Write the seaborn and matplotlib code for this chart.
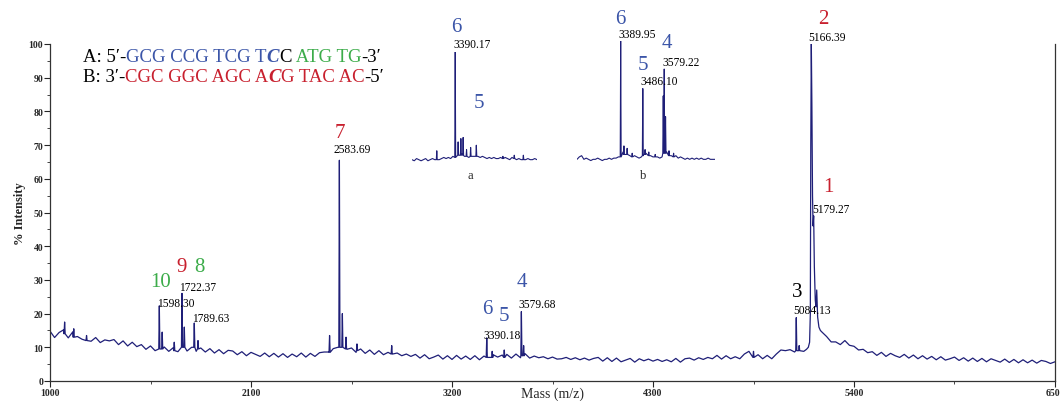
import numpy as np
import pandas as pd
import seaborn as sns
import matplotlib.pyplot as plt
from matplotlib.offsetbox import TextArea, HPacker, VPacker, AnnotationBbox

# main spectrum background, one value every 25 Da from 1000 to 6500 (nan = covered by main cluster)
base_start, base_step = 1000, 25
base_int = [
    14.8, 12.9, 14.4, 15.2, 12.8, 14.6, 13.2, 12.4, 13.9, 11.8, 12.9, 11.4, 12.2, 11.9, 12.3, 10.8, 11.9, 10.4, 11.5, 10.2,
    10.8, 9.4, 10.4, 9.0, 9.6, 10.1, 8.8, 9.9, 8.7, 9.8, 8.9, 10.0, 8.8, 9.8, 8.6, 9.6, 8.3, 9.3, 8.1, 9.1,
    8.9, 7.8, 8.7, 7.5, 8.5, 7.9, 7.3, 8.3, 7.2, 8.2, 7.1, 8.1, 7.0, 8.0, 7.2, 8.3, 7.1, 8.2, 7.3, 8.4,
    8.6, 8.6, 9.6, 10.0, 10.9, 9.4, 9.8, 8.5, 9.5, 8.2, 9.2, 7.9, 9.0, 7.8, 8.5, 8.0, 8.3, 7.5, 8.0, 7.3,
    7.9, 6.8, 7.8, 6.6, 7.1, 7.7, 6.5, 7.5, 6.4, 7.6, 6.5, 7.4, 6.4, 7.5, 6.3, 7.4, 7.0, 7.8, 7.1, 7.7,
    7.9, 6.8, 8.0, 6.9, 8.1, 6.8, 7.4, 6.9, 7.2, 6.6, 7.1, 6.5, 6.6, 7.0, 6.4, 6.9, 6.3, 6.8, 6.2, 6.7,
    7.0, 5.9, 6.9, 5.8, 6.8, 5.7, 6.2, 6.7, 5.6, 6.6, 6.0, 6.5, 5.9, 6.4, 5.8, 6.3, 5.7, 6.7, 5.6, 6.6,
    6.8, 6.2, 6.9, 6.4, 7.0, 6.6, 7.6, 6.5, 7.5, 6.6, 7.2, 6.6, 8.0, 8.8, 7.6, 7.8, 6.6, 7.6, 6.6, 8.0,
    9.2, 9.0, 9.3, 8.6, 9.2, 8.8, np.nan, np.nan, np.nan, 14.5, 13.2, 11.6, 11.6, 10.8, 12.0, 10.6, 10.3, 9.2, 9.4, 8.4,
    8.7, 7.6, 8.5, 7.3, 8.2, 7.5, 7.0, 7.9, 6.8, 7.7, 6.6, 7.5, 6.5, 7.3, 6.3, 7.2, 6.2, 6.6, 7.1, 6.1,
    6.9, 5.9, 6.8, 5.8, 6.7, 5.7, 6.6, 6.1, 5.6, 6.5, 5.5, 6.4, 5.4, 6.3, 5.4, 6.2, 5.3, 6.1, 5.8, 5.2, 5.7,
]

# sharp peaks: position, top, level at the foot
peak_mz = [1080, 1130, 1200, 1598.30, 1614, 1680, 1722.37, 1735, 1789.63, 1810, 2530, 2583.69, 2600,
           2620, 2680, 2870, 3390.18, 3420, 3486, 3579.68, 3592, 4850, 5084.13, 5100]
peak_int = [17.5, 15.5, 13.5, 22.3, 14.5, 11.5, 26.0, 16.0, 17.2, 12.0, 13.5, 65.5, 20.0,
            13.0, 11.0, 10.5, 12.8, 8.8, 9.2, 20.6, 10.5, 8.8, 18.8, 10.5]
peak_floor = [14, 13, 12, 9.5, 9.5, 9, 10, 10, 10, 9.5, 8.5, 10, 10,
              9.5, 9, 8, 7, 7, 7, 7.5, 7.5, 7, 9, 9]

# the duplex cluster around 5166
cluster_mz = [5140, 5150, 5157, 5161, 5163.5, 5166.39, 5169.5, 5173, 5176, 5179.27, 5183, 5188,
              5192, 5196, 5201, 5208, 5216]
cluster_int = [9.4, 10.0, 11.5, 20, 70, 100, 82, 55, 46, 49, 34, 24, 22, 27, 19, 16, 15]

# inset a (3200-3750, every 10 Da), relative intensity
a_start, a_step = 3200, 10
a_base = [3, 2, 4, 3, 2, 3, 4, 2, 3, 4,
          3, 4, 3, 4, 5, 4, 5, 4, 6, 6,
          8, 7, 8, 6, 7, 5, 6, 6, 5, 6,
          5, 6, 5, 4, 5, 4, 5, 4, 4, 5,
          4, 5, 4, 3, 5, 4, 3, 4, 3, 4,
          3, 4, 3, 3, 4, 3]
a_peak_mz = [3309, 3390.17, 3403, 3415, 3425, 3440, 3458, 3483, 3600, 3650, 3690]
a_peak_int = [11, 100, 19, 22, 23, 12, 14, 16, 6, 7, 7]
a_peak_floor = [3, 5, 7, 7, 7, 6, 6, 6, 4, 4, 3]

# inset b (3200-3800, every 10 Da)
b_start, b_step = 3200, 10
b_base = [3, 5, 6, 3, 4, 3, 2, 3, 3, 4,
          3, 2, 3, 3, 4, 3, 4, 4, 5, 5,
          9, 7, 8, 6, 5, 6, 5, 4, 5, 7,
          8, 7, 6, 5, 6, 5, 4, 5, 7, 9,
          8, 6, 5, 6, 4, 5, 4, 3, 4, 3,
          4, 3, 4, 3, 4, 3, 3, 4, 3, 3,
          3]
b_peak_mz = [3389.95, 3404, 3418, 3440, 3486.10, 3496, 3512, 3540, 3575, 3579.22, 3585, 3600, 3620]
b_peak_int = [100, 14, 12, 8, 61, 11, 9, 7, 55, 77, 38, 10, 8]
b_peak_floor = [5, 7, 7, 5, 6, 7, 6, 5, 8, 8, 8, 6, 5]


def build_trace(start, step, base, pk_mz, pk_int, pk_floor, extra_mz=(), extra_int=(), half=3):
    grid = start + step * np.arange(len(base))
    bg = pd.DataFrame({'mz': grid, 'intensity': base}).dropna()
    pk = np.asarray(pk_mz, float)
    keep = np.ones(len(bg), bool)
    for c in pk:
        keep &= np.abs(bg['mz'].values - c) > half + 1
    bg = bg[keep]
    spikes = pd.DataFrame({
        'mz': np.concatenate([pk - half, pk, pk + half]),
        'intensity': np.concatenate([pk_floor, pk_int, pk_floor]),
    })
    extra = pd.DataFrame({'mz': list(extra_mz), 'intensity': list(extra_int)})
    return pd.concat([bg, spikes, extra], ignore_index=True).sort_values('mz')


main_df = build_trace(base_start, base_step, base_int, peak_mz, peak_int, peak_floor,
                      cluster_mz, cluster_int)
a_df = build_trace(a_start, a_step, a_base, a_peak_mz, a_peak_int, a_peak_floor, half=2)
b_df = build_trace(b_start, b_step, b_base, b_peak_mz, b_peak_int, b_peak_floor, half=2)

sns.set_theme(style='ticks')
plt.rcParams['font.family'] = ['Liberation Serif', 'DejaVu Serif']

W, H = 1060, 402
fig = plt.figure(figsize=(W / 100, H / 100), dpi=100)


def px(x, y):
    return x / W, 1 - y / H


trace_color = '#1f1f78'
blue, red, green = '#3b55a8', '#c8202e', '#3cac4a'

ax = fig.add_axes([50 / W, 1 - 382 / H, 1005 / W, 337 / H])
sns.lineplot(data=main_df, x='mz', y='intensity', ax=ax, color=trace_color,
             linewidth=0.9, estimator=None, sort=False)
ax.set_xlim(1000, 6500)
ax.set_ylim(0, 100)
ax.set_xticks(np.arange(1000, 6501, 1100))
ax.set_xticks(np.arange(1550, 6500, 1100), minor=True)
ax.set_yticks(np.arange(0, 101, 10))
ax.set_yticks(np.arange(5, 100, 10), minor=True)
ax.tick_params(which='major', direction='out', length=4, width=0.8, labelsize=7, pad=1)
ax.tick_params(which='minor', direction='out', length=2, width=0.6)
for lab in ax.get_xticklabels() + ax.get_yticklabels():
    lab.set_fontweight('bold')
ax.spines['top'].set_visible(False)
for s in ['left', 'bottom', 'right']:
    ax.spines[s].set_linewidth(0.9)
    ax.spines[s].set_color('#333333')
ax.set_xlabel('Mass (m/z)', fontsize=10)
ax.xaxis.set_label_coords(0.5, -0.016)
ax.set_ylabel('% Intensity', fontsize=9, fontweight='bold', labelpad=2)

# insets
ax_a = fig.add_axes([412 / W, 1 - 164 / H, 125 / W, 111 / H])
ax_b = fig.add_axes([577 / W, 1 - 164 / H, 138 / W, 122 / H])
for axi, d, lo, hi in [(ax_a, a_df, 3200, 3750), (ax_b, b_df, 3200, 3800)]:
    sns.lineplot(data=d, x='mz', y='intensity', ax=axi, color=trace_color,
                 linewidth=0.8, estimator=None, sort=False)
    axi.set_xlim(lo, hi)
    axi.set_ylim(0, 100)
    axi.set_axis_off()
    axi.patch.set_alpha(0)

num_font = dict(fontsize=15, ha='center', va='center')
mass_font = dict(fontsize=8.3, ha='left', va='center', color='black')

# inset labels
fig.text(*px(456, 28), '6', color=blue, **num_font)
fig.text(*px(453, 45), '3390.17', **mass_font)
fig.text(*px(479, 103), '5', color=blue, **num_font)
fig.text(*px(470, 176), 'a', fontsize=9, ha='center', va='center')
fig.text(*px(620, 20), '6', color=blue, **num_font)
fig.text(*px(618, 35), '3389.95', **mass_font)
fig.text(*px(643, 65), '5', color=blue, **num_font)
fig.text(*px(640, 82), '3486.10', **mass_font)
fig.text(*px(667, 43), '4', color=blue, **num_font)
fig.text(*px(662, 63), '3579.22', **mass_font)
fig.text(*px(643, 176), 'b', fontsize=9, ha='center', va='center')

# main peak labels
fig.text(*px(823, 20), '2', color=red, **num_font)
fig.text(*px(808, 38), '5166.39', **mass_font)
fig.text(*px(828, 187), '1', color=red, **num_font)
fig.text(*px(812, 210), '5179.27', **mass_font)
fig.text(*px(797, 293), '3', color='black', **num_font)
fig.text(*px(793, 311), '5084.13', **mass_font)
fig.text(*px(340, 133), '7', color=red, **num_font)
fig.text(*px(333, 150), '2583.69', **mass_font)
fig.text(*px(161, 283), '10', color=green, **num_font)
fig.text(*px(157, 304), '1598.30', **mass_font)
fig.text(*px(182, 268), '9', color=red, **num_font)
fig.text(*px(199, 267), '8', color=green, **num_font)
fig.text(*px(179, 288), '1722.37', **mass_font)
fig.text(*px(192, 319), '1789.63', **mass_font)
fig.text(*px(487, 310), '6', color=blue, **num_font)
fig.text(*px(504, 317), '5', color=blue, **num_font)
fig.text(*px(483, 336), '3390.18', **mass_font)
fig.text(*px(522, 283), '4', color=blue, **num_font)
fig.text(*px(518, 305), '3579.68', **mass_font)

# strand sequences
seq_a = [('A: 5\u2032-', 'black', 'normal'), ('GCG CCG TCG T', blue, 'normal'),
         ('C', blue, 'italic'), ('C', 'black', 'normal'), (' ATG TG', green, 'normal'),
         ('-3\u2032', 'black', 'normal')]
seq_b = [('B: 3\u2032-', 'black', 'normal'), ('CGC GGC AGC A', red, 'normal'),
         ('C', red, 'italic'), ('G TAC AC', red, 'normal'), ('-5\u2032', 'black', 'normal')]


def seq_line(parts):
    boxes = []
    for s, c, st in parts:
        props = dict(color=c, fontsize=13.5, style=st,
                     fontweight='bold' if st == 'italic' else 'normal')
        boxes.append(TextArea(s, textprops=props))
    return HPacker(children=boxes, align='baseline', pad=0, sep=0)


seq_box = VPacker(children=[seq_line(seq_a), seq_line(seq_b)], align='left', pad=0, sep=2)
fig.add_artist(AnnotationBbox(seq_box, px(83, 49), xycoords='figure fraction',
                              box_alignment=(0, 1), frameon=False))

fig.savefig('out.png', dpi=100)
